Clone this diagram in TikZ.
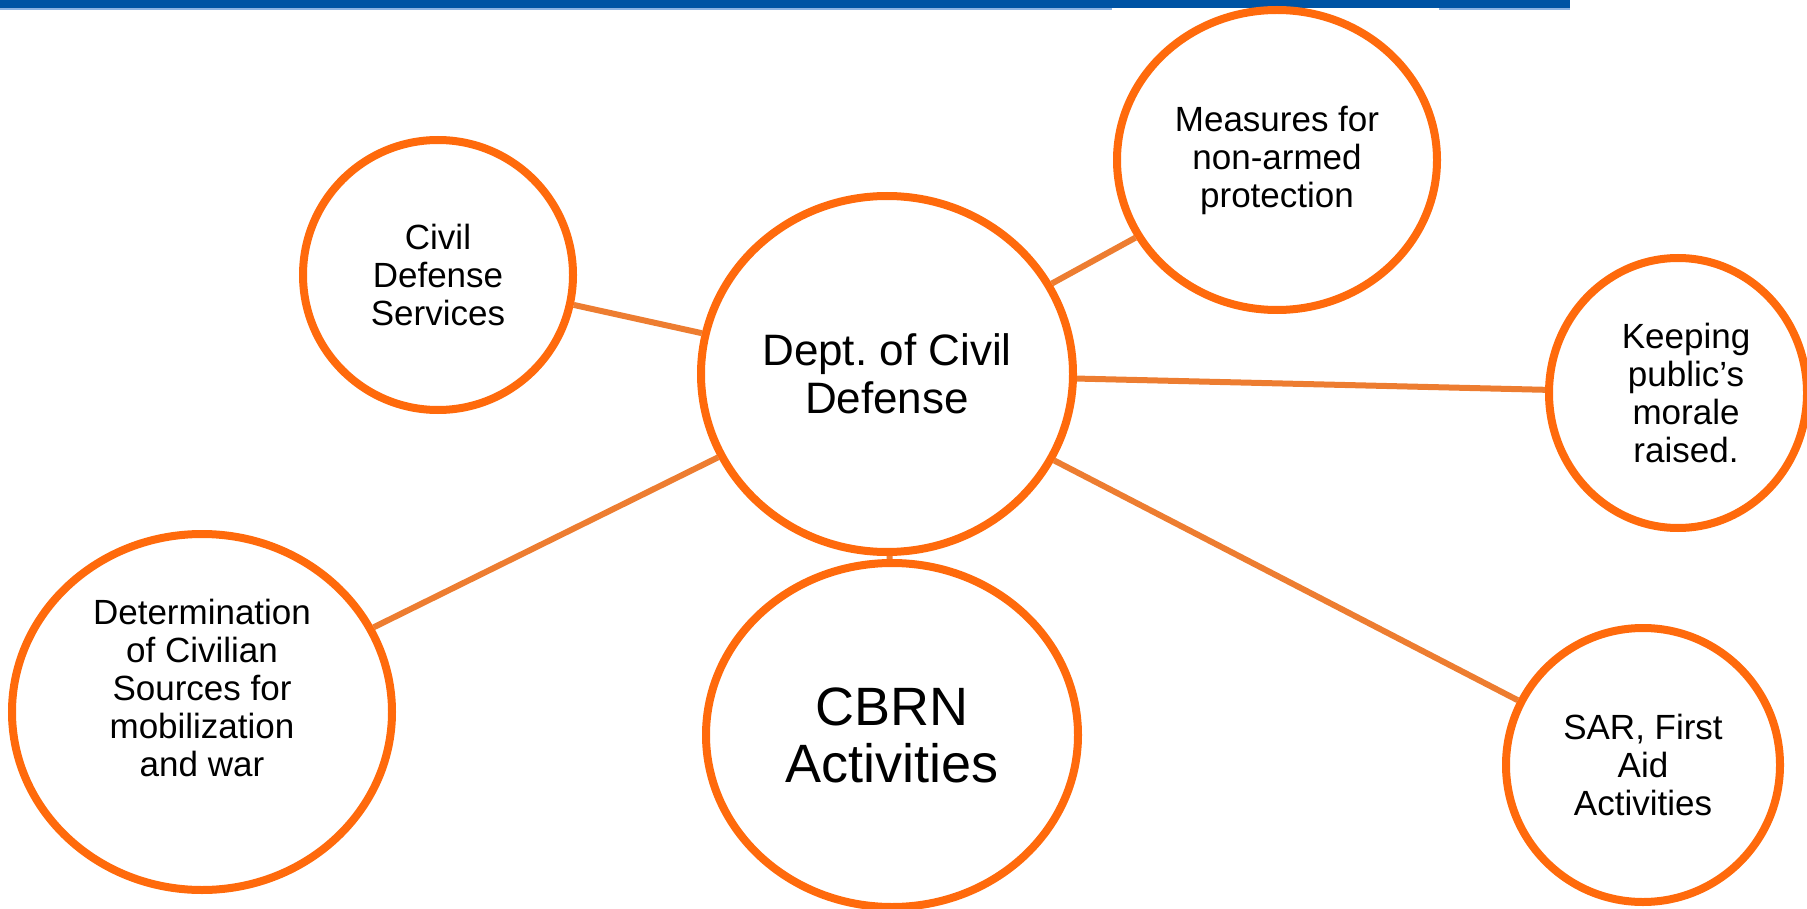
\documentclass[tikz,border=0pt]{standalone}
\usepackage{fontspec}
\setmainfont{Liberation Sans}
\usetikzlibrary{shapes.geometric}
\definecolor{ringorange}{RGB}{255,106,12}
\definecolor{linkorange}{RGB}{237,125,49}
\definecolor{barblue}{RGB}{0,84,164}
\definecolor{barlight}{RGB}{141,179,226}
\frenchspacing
\begin{document}
\begin{tikzpicture}[x=1pt,y=-1pt,
  bubble/.style={ellipse, draw=ringorange, line width=8pt, fill=white, inner sep=0pt, align=center, text=black},
  link/.style={draw=linkorange, line width=6pt},
  smalltext/.style={font=\fontsize{35}{38}\selectfont},
]
\useasboundingbox (0,0) rectangle (1807,909);
\fill[barblue] (0,0) rectangle (1570,8.5);
\fill[barlight] (0,8.5) rectangle (1570,10.5);
\fill[white] (1112,8) rectangle (1439,12);

\node[bubble, minimum width=372pt, minimum height=356pt, font=\fontsize{44}{48}\selectfont] (dept) at (887,374) {Dept. of Civil\\Defense};
\node[bubble, smalltext, minimum width=270pt, minimum height=270pt] (cds) at (438,275) {Civil\\Defense\\Services};
\node[bubble, smalltext, minimum width=320pt, minimum height=300pt] (meas) at (1277,160) {Measures for\\non-armed\\protection};
\node[bubble, minimum width=258pt, minimum height=270pt] (keep) at (1678,393) {};
\node[smalltext, align=center, inner sep=0pt] (keeptext) at (1686,393) {Keeping\\public’s\\morale\\raised.};
\node[bubble, minimum width=380pt, minimum height=356pt] (det) at (202,712) {};
\node[smalltext, align=center, inner sep=0pt] (dettext) at (202,688) {Determination\\of Civilian\\Sources for\\mobilization\\and war};
\node[bubble, minimum width=372pt, minimum height=344pt, font=\fontsize{54}{57}\selectfont] (cbrn) at (892,735) {CBRN\\Activities};
\node[bubble, smalltext, minimum width=274pt, minimum height=274pt] (sar) at (1643,765) {SAR, First\\Aid\\Activities};

\draw[link] (cds) -- (dept);
\draw[link] (meas) -- (dept);
\draw[link] (keep) -- (dept);
\draw[link] (sar) -- (dept);
\draw[link] (det) -- (dept);
\draw[link] (cbrn) -- (dept);
\end{tikzpicture}
\end{document}
